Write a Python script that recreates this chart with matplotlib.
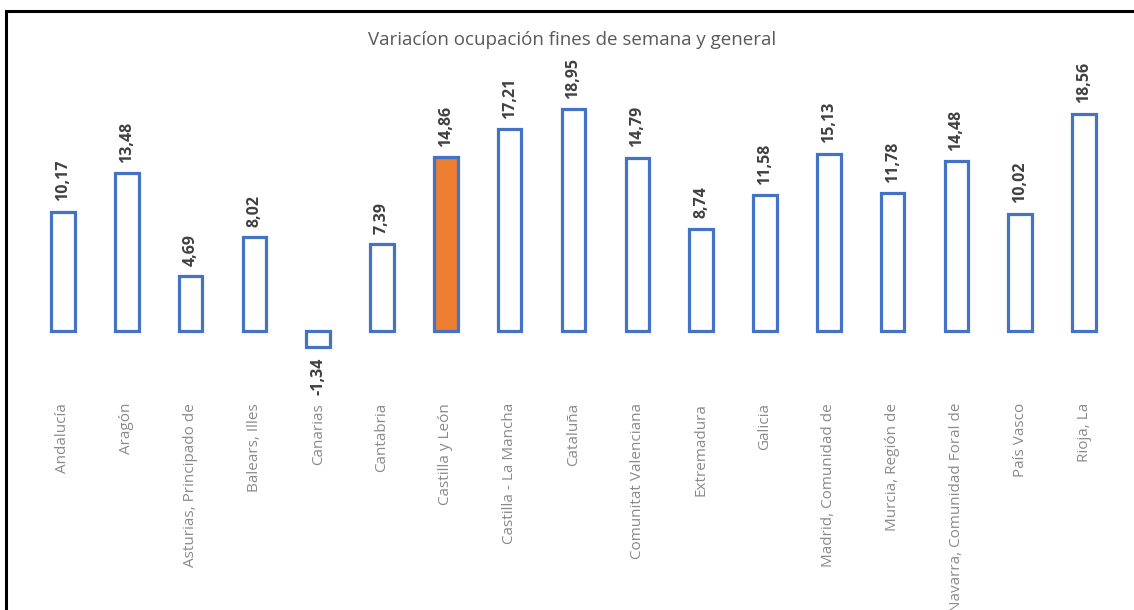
import matplotlib.pyplot as plt
from matplotlib.patches import Rectangle

regiones = ['Andalucía', 'Aragón', 'Asturias, Principado de', 'Balears, Illes',
            'Canarias', 'Cantabria', 'Castilla y León', 'Castilla - La Mancha',
            'Cataluña', 'Comunitat Valenciana', 'Extremadura', 'Galicia',
            'Madrid, Comunidad de', 'Murcia, Región de',
            'Navarra, Comunidad Foral de', 'País Vasco', 'Rioja, La']
variacion = [10.17, 13.48, 4.69, 8.02, -1.34, 7.39, 14.86, 17.21, 18.95,
             14.79, 8.74, 11.58, 15.13, 11.78, 14.48, 10.02, 18.56]
destacada = 'Castilla y León'

azul = '#4472C4'
naranja = '#ED7D31'

W, H = 1134, 610
fig = plt.figure(figsize=(W / 100, H / 100), dpi=100)

# marco negro (cortado a la derecha y abajo)
fig.patches.append(Rectangle((6 / W, -0.05), 1.2, (H - 11) / H + 0.05,
                             transform=fig.transFigure, fill=False,
                             edgecolor='black', linewidth=2.2))

ax = fig.add_axes([31 / W, 232 / H, 1085 / W, 281.3 / H])

x = list(range(len(regiones)))
colores = [naranja if r == destacada else 'white' for r in regiones]
ax.bar(x, variacion, width=0.37, color=colores, edgecolor=azul, linewidth=2.3)

for xi, v in zip(x, variacion):
    txt = '{:.2f}'.format(v).replace('.', ',')
    if v >= 0:
        ax.annotate(txt, (xi, v), xytext=(0, 7.5), textcoords='offset points',
                    rotation=90, ha='center', va='bottom', fontsize=11.5,
                    fontweight='bold', color='#404040', family='Open Sans')
    else:
        ax.annotate(txt, (xi, v), xytext=(0, -7.5), textcoords='offset points',
                    rotation=90, ha='center', va='top', fontsize=11.5,
                    fontweight='bold', color='#404040', family='Open Sans')

ax.set_xlim(-0.5, len(regiones) - 0.5)
ax.set_ylim(-4, 20)
ax.set_yticks([])
ax.set_xticks(x)
ax.set_xticklabels(regiones, rotation=90, fontsize=11, color='#8a8a8a',
                   family='Open Sans')
ax.tick_params(axis='x', length=0, pad=18)
for s in ax.spines.values():
    s.set_visible(False)

fig.text(572 / W, 1 - 40 / H, 'Variacíon ocupación fines de semana y general',
         ha='center', va='center', fontsize=13.5, color='#595959',
         family='Open Sans')

fig.savefig('out.png', dpi=100)
